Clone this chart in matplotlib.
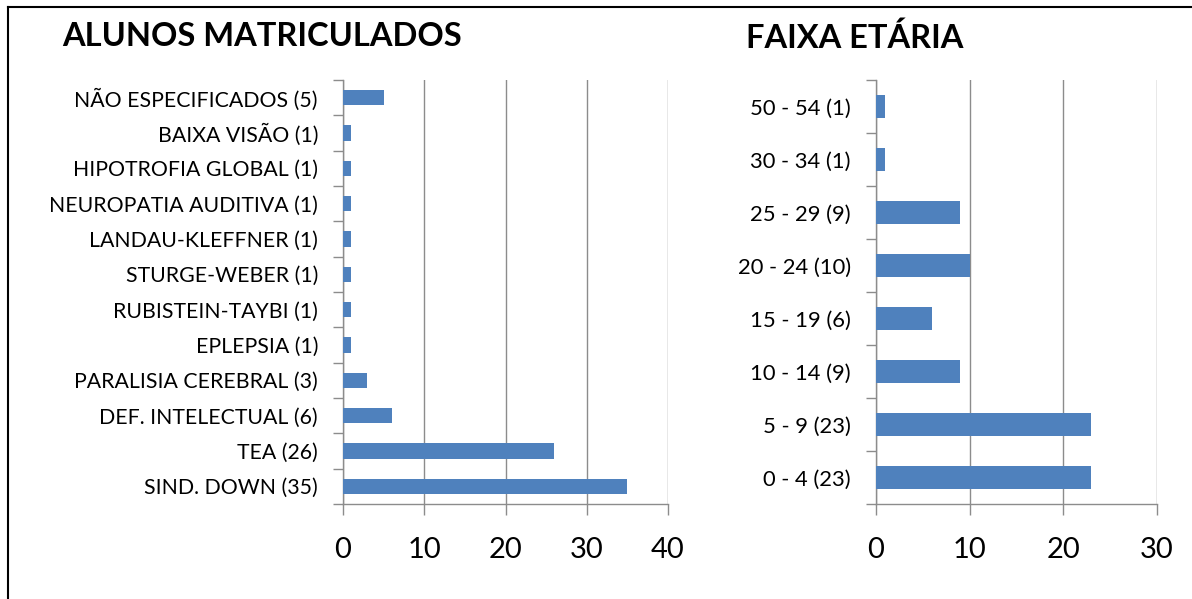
import matplotlib
matplotlib.use("Agg")
import matplotlib.pyplot as plt
from matplotlib.lines import Line2D

plt.rcParams['font.family'] = ['Lato', 'DejaVu Sans']

cond_labels = ["SIND. DOWN (35)", "TEA (26)", "DEF. INTELECTUAL (6)", "PARALISIA CEREBRAL (3)",
               "EPLEPSIA (1)", "RUBISTEIN-TAYBI (1)", "STURGE-WEBER (1)", "LANDAU-KLEFFNER (1)",
               "NEUROPATIA AUDITIVA (1)", "HIPOTROFIA GLOBAL (1)", "BAIXA VISÃO (1)",
               "NÃO ESPECIFICADOS (5)"]
cond_values = [35, 26, 6, 3, 1, 1, 1, 1, 1, 1, 1, 5]

age_labels = ["0 - 4 (23)", "5 - 9 (23)", "10 - 14 (9)", "15 - 19 (6)", "20 - 24 (10)",
              "25 - 29 (9)", "30 - 34 (1)", "50 - 54 (1)"]
age_values = [23, 23, 9, 6, 10, 9, 1, 1]

W, H = 1192, 599
fig = plt.figure(figsize=(W/100, H/100), dpi=100)

bar_color = "#4F81BD"
grid_color = "#8C8C8C"

def setup(ax, labels, values, xmax, xstep, bh, fs):
    n = len(labels)
    y = list(range(n))
    ax.barh(y, values, height=bh, color=bar_color, zorder=3)
    ax.set_xlim(0, xmax)
    ax.set_ylim(-0.5, n - 0.5)
    ax.set_yticks(y)
    ax.set_yticklabels(labels, fontsize=fs)
    ax.set_yticks([i - 0.5 for i in range(n + 1)], minor=True)
    ax.tick_params(axis='y', which='major', length=0, pad=18)
    ax.tick_params(axis='y', which='minor', length=7, color=grid_color, width=1)
    ax.set_xticks(list(range(0, xmax + 1, xstep)))
    ax.tick_params(axis='x', length=8, color=grid_color, width=1, labelsize=21, pad=16)
    ax.grid(axis='x', color=grid_color, linewidth=1, zorder=0)
    for s in ['top', 'right']:
        ax.spines[s].set_visible(False)
    for s in ['left', 'bottom']:
        ax.spines[s].set_color(grid_color)
        ax.spines[s].set_linewidth(1)

ax1 = fig.add_axes([343/W, 1 - 504/H, (668-343)/W, (504-80)/H])
setup(ax1, cond_labels, cond_values, 40, 10, 0.43, 15.3)
ax2 = fig.add_axes([876/W, 1 - 504/H, (1157-876)/W, (504-80)/H])
setup(ax2, age_labels, age_values, 30, 10, 0.42, 15.8)

fig.text(62/W, 1 - 36/H, "ALUNOS MATRICULADOS", fontsize=23.5, fontweight='bold', va='center', ha='left')
fig.text(746/W, 1 - 38/H, "FAIXA ETÁRIA", fontsize=23.5, fontweight='bold', va='center', ha='left')

fig.add_artist(Line2D([8/W, 8/W], [0, 1 - 7/H], color='black', linewidth=1.5, transform=fig.transFigure))
fig.add_artist(Line2D([8/W, 1], [1 - 7/H, 1 - 7/H], color='black', linewidth=1.5, transform=fig.transFigure))

fig.savefig("out.png", dpi=100)
